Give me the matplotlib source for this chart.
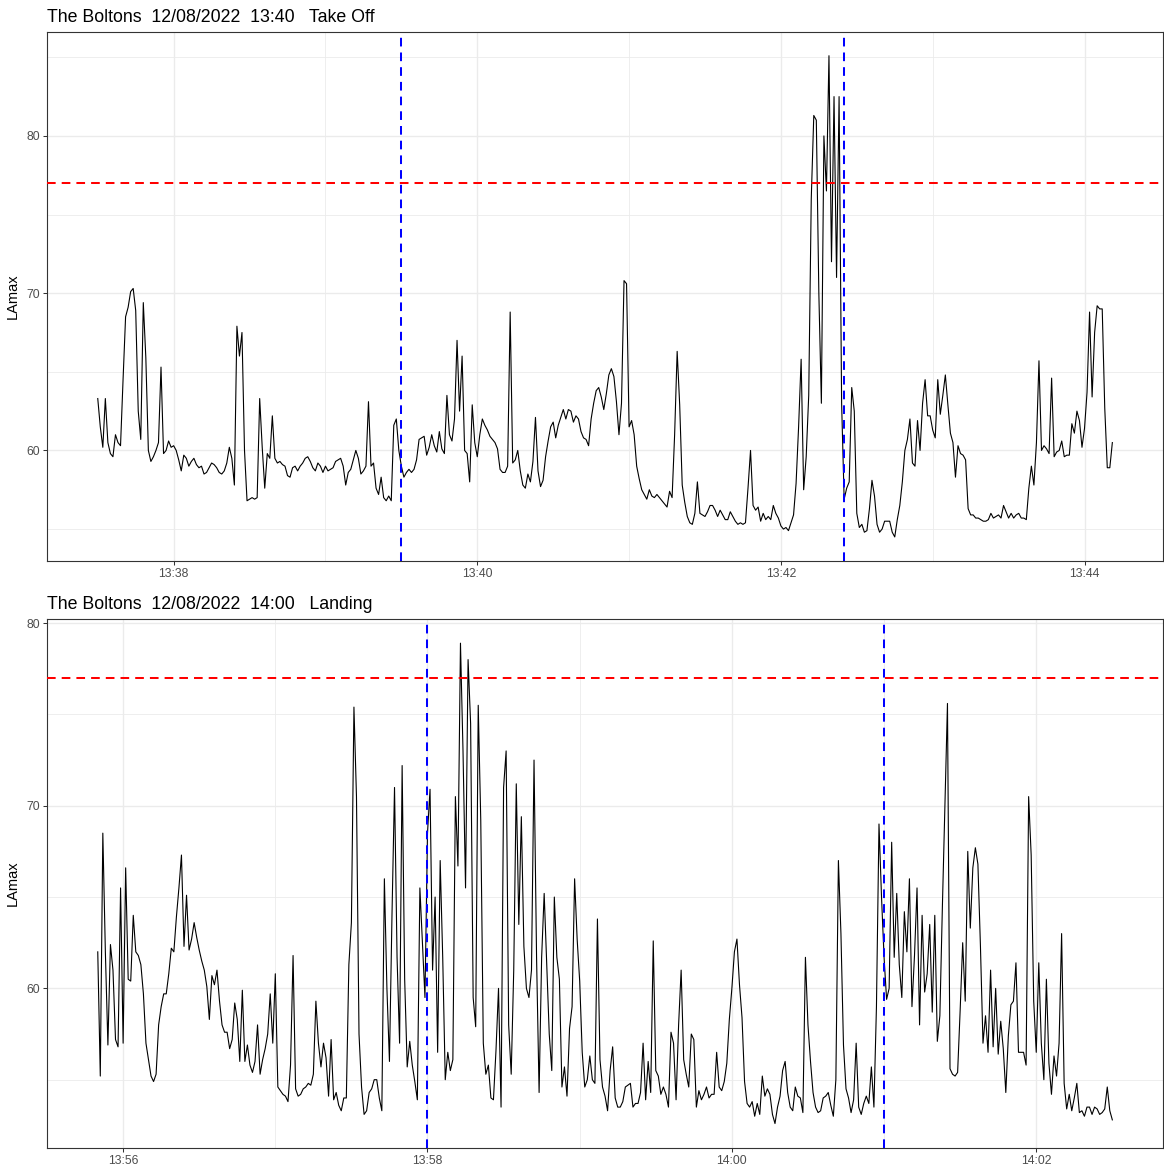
import matplotlib
matplotlib.use("Agg")
import matplotlib.pyplot as plt
import matplotlib.dates as mdates
from matplotlib.ticker import MultipleLocator
import pandas as pd

# LAmax readings, one per second
takeoff_start = "2022-08-12 13:37:30"
takeoff_lamax = [
    63.3, 61.5, 60.2, 63.3, 60.5, 59.8, 59.6, 61.0, 60.5, 60.3,
    64.5, 68.5, 69.1, 70.1, 70.3, 68.9, 62.5, 60.7, 69.4, 65.9,
    60.0, 59.3, 59.6, 60.0, 60.5, 65.3, 59.8, 60.0, 60.6, 60.2,
    60.3, 60.0, 59.4, 58.7, 59.7, 59.5, 59.0, 59.3, 59.5, 59.1,
    58.9, 59.0, 58.5, 58.6, 58.9, 59.2, 59.1, 58.9, 58.6, 58.5,
    58.7, 59.2, 60.2, 59.5, 57.8, 67.9, 66.0, 67.5, 60.0, 56.8,
    56.9, 57.0, 56.9, 57.0, 63.3, 60.2, 57.6, 59.8, 59.5, 62.2,
    59.5, 59.2, 59.3, 59.1, 59.0, 58.4, 58.3, 58.9, 59.0, 58.7,
    59.0, 59.2, 59.5, 59.6, 59.3, 58.9, 58.7, 59.2, 59.0, 58.6,
    59.0, 58.7, 58.8, 58.9, 59.3, 59.4, 59.5, 59.0, 57.8, 58.6,
    58.8, 59.4, 60.0, 59.5, 58.5, 58.7, 59.0, 63.1, 59.0, 59.2,
    57.6, 57.2, 58.3, 57.0, 56.8, 57.1, 56.8, 61.6, 62.0, 60.0,
    59.0, 58.3, 58.6, 58.8, 58.6, 58.8, 59.4, 60.7, 60.8, 60.9,
    59.7, 60.2, 61.0, 60.3, 59.9, 61.2, 60.1, 59.8, 63.5, 61.0,
    60.6, 62.0, 67.0, 62.5, 66.0, 60.0, 59.8, 58.0, 62.9, 60.5,
    59.6, 61.0, 62.0, 61.6, 61.3, 60.9, 60.7, 60.5, 60.1, 58.8,
    58.6, 58.6, 59.0, 68.8, 59.2, 59.4, 60.0, 58.7, 57.8, 57.6,
    58.5, 58.0, 59.3, 62.1, 58.7, 57.7, 58.1, 59.6, 60.6, 61.5,
    61.8, 60.8, 61.6, 62.1, 62.6, 62.0, 62.6, 62.5, 61.8, 62.2,
    62.0, 61.2, 60.8, 60.7, 60.3, 62.0, 63.0, 63.8, 64.0, 63.4,
    62.6, 63.6, 64.8, 65.2, 64.7, 63.1, 61.0, 63.0, 70.8, 70.6,
    61.5, 61.9, 61.0, 59.0, 58.2, 57.5, 57.2, 56.9, 57.5, 57.1,
    57.0, 57.2, 57.0, 56.8, 56.6, 56.4, 57.4, 57.0, 61.0, 66.3,
    62.9, 57.8, 56.7, 55.8, 55.4, 55.3, 56.0, 58.0, 56.0, 55.9,
    55.8, 56.1, 56.5, 56.5, 56.2, 55.8, 56.2, 55.9, 55.6, 55.6,
    56.1, 55.8, 55.5, 55.3, 55.4, 55.3, 55.4, 57.6, 60.0, 56.5,
    56.2, 56.4, 55.5, 56.0, 55.6, 55.8, 55.6, 56.5, 56.0, 55.7,
    55.2, 55.0, 55.1, 54.9, 55.4, 55.9, 57.9, 61.5, 65.8, 57.5,
    59.6, 63.5, 76.0, 81.3, 81.0, 70.0, 63.0, 80.0, 76.5, 85.1,
    72.0, 82.5, 71.0, 82.5, 63.0, 56.9, 57.6, 58.0, 64.0, 62.5,
    56.0, 55.1, 55.3, 54.8, 54.9, 56.3, 58.1, 57.1, 55.3, 54.8,
    55.0, 55.5, 55.5, 55.5, 54.8, 54.5, 55.6, 56.5, 58.0, 60.0,
    60.7, 62.0, 59.2, 59.0, 61.9, 60.0, 63.0, 64.5, 62.2, 62.2,
    61.3, 60.8, 64.5, 62.3, 63.5, 64.8, 62.9, 61.1, 60.5, 58.3,
    60.3, 59.8, 59.7, 59.4, 56.3, 55.9, 55.9, 55.7, 55.7, 55.6,
    55.5, 55.5, 55.6, 56.0, 55.7, 55.8, 55.9, 55.7, 56.5, 56.1,
    55.7, 56.0, 55.7, 55.9, 56.0, 55.7, 55.7, 55.6, 57.6, 59.0,
    57.8, 60.5, 65.7, 60.0, 60.3, 60.1, 59.8, 64.6, 59.6, 59.9,
    60.0, 60.6, 59.6, 59.7, 59.7, 61.7, 61.1, 62.5, 61.9, 60.2,
    61.4, 63.7, 68.8, 63.4, 67.5, 69.2, 69.0, 69.0, 62.7, 58.9,
    58.9, 60.5,
]
takeoff_marks = ["2022-08-12 13:39:30", "2022-08-12 13:42:25"]

landing_start = "2022-08-12 13:55:50"
landing_lamax = [
    62.0, 55.2, 68.5, 62.0, 56.9, 62.4, 61.0, 57.2, 56.8, 65.5,
    57.0, 66.6, 60.5, 60.4, 64.0, 62.0, 61.8, 61.3, 59.7, 57.0,
    56.1, 55.2, 54.9, 55.3, 58.0, 59.0, 59.7, 59.7, 60.8, 62.2,
    62.0, 63.9, 65.5, 67.3, 62.3, 65.1, 62.1, 62.7, 63.6, 62.8,
    62.1, 61.5, 61.0, 60.1, 58.3, 60.7, 60.2, 61.0, 59.3, 58.0,
    57.6, 57.6, 56.7, 57.2, 59.2, 58.3, 56.0, 59.9, 56.0, 56.9,
    55.8, 55.4, 56.0, 58.0, 55.3, 56.1, 56.7, 57.5, 59.7, 57.0,
    60.8, 54.6, 54.4, 54.2, 54.1, 53.8, 55.8, 61.8, 54.5, 54.1,
    54.2, 54.5, 54.6, 54.8, 54.7, 55.3, 59.3, 57.0, 55.7, 57.0,
    56.2, 54.1, 57.2, 53.9, 54.3, 53.6, 53.3, 54.0, 54.0, 61.3,
    63.6, 75.4, 70.5, 57.5, 54.6, 53.1, 53.3, 54.3, 54.5, 55.0,
    55.0, 54.0, 53.3, 66.0, 60.0, 56.0, 64.0, 71.0, 61.7, 57.0,
    72.2, 60.5, 55.7, 57.1, 55.8, 54.9, 53.9, 65.5, 62.5, 59.5,
    68.5, 70.9, 61.0, 65.0, 56.5, 67.0, 61.7, 55.0, 56.5, 55.5,
    56.1, 70.5, 66.7, 78.9, 73.0, 65.5, 78.0, 74.5, 59.5, 57.9,
    75.5, 69.2, 57.0, 55.3, 55.8, 54.0, 53.9, 56.6, 60.0, 53.5,
    71.0, 73.0, 58.0, 55.3, 61.0, 71.2, 63.5, 69.4, 62.3, 60.0,
    59.5, 61.0, 72.5, 61.7, 54.3, 61.7, 65.2, 61.4, 57.5, 55.5,
    65.0, 61.7, 60.5, 54.6, 55.7, 54.1, 57.8, 59.0, 66.0, 62.7,
    60.4, 56.5, 54.6, 55.0, 56.3, 55.0, 54.8, 63.8, 56.1, 54.6,
    54.1, 53.3, 55.5, 56.8, 54.0, 53.5, 53.5, 53.8, 54.6, 54.7,
    54.8, 53.5, 53.7, 53.7, 54.3, 57.0, 53.9, 56.0, 54.3, 62.6,
    55.5, 55.2, 54.2, 54.6, 54.2, 53.5, 57.6, 57.0, 53.9, 58.0,
    61.0, 56.1, 55.3, 54.6, 57.5, 57.2, 53.5, 54.4, 53.9, 54.2,
    54.6, 54.0, 54.2, 54.2, 56.5, 54.6, 54.4, 54.9, 55.9, 58.3,
    60.0, 62.0, 62.7, 60.2, 58.4, 54.9, 53.7, 53.5, 53.8, 53.0,
    53.7, 53.1, 55.2, 54.1, 54.5, 54.2, 53.1, 52.6, 53.5, 54.1,
    55.5, 56.0, 54.3, 53.5, 53.3, 54.6, 54.1, 54.0, 53.2, 61.7,
    58.0, 56.0, 54.3, 53.5, 53.2, 53.3, 54.0, 54.1, 54.3, 53.6,
    53.0, 55.0, 67.0, 63.0, 56.9, 54.5, 54.0, 53.2, 53.9, 57.0,
    53.5, 53.1, 53.7, 54.1, 53.7, 55.7, 53.5, 59.0, 69.0, 65.0,
    61.7, 59.4, 60.0, 68.0, 61.7, 65.2, 61.3, 59.5, 64.2, 62.0,
    66.0, 59.0, 61.8, 65.5, 58.0, 64.0, 59.8, 60.8, 63.5, 58.7,
    64.0, 57.1, 58.5, 64.5, 70.0, 75.6, 55.6, 55.3, 55.2, 55.4,
    58.8, 62.5, 59.3, 67.5, 63.3, 66.6, 67.7, 66.8, 62.3, 57.0,
    58.5, 56.5, 61.0, 56.8, 60.0, 56.4, 58.2, 56.7, 54.3, 57.4,
    59.1, 59.3, 61.4, 56.5, 56.5, 56.5, 55.8, 70.5, 67.3, 59.3,
    56.5, 61.4, 57.0, 55.0, 60.5, 55.9, 54.2, 56.3, 55.2, 57.0,
    63.0, 54.8, 53.4, 54.2, 53.3, 54.0, 54.8, 53.2, 53.3, 53.0,
    53.5, 53.5, 53.1, 53.5, 53.4, 53.1, 53.2, 53.4, 54.6, 53.3,
    52.8,
]
landing_marks = ["2022-08-12 13:58:00", "2022-08-12 14:01:00"]

limit_db = 77
titles = [
    "The Boltons  12/08/2022  13:40   Take Off",
    "The Boltons  12/08/2022  14:00   Landing",
]

plt.rcParams['font.family'] = ['Liberation Sans', 'DejaVu Sans']

colors = {
    'trace': 'black',
    'limit': '#FF0000',
    'event': '#0000FF',
    'grid': '#EBEBEB',
    'frame': '#333333',
    'ticklabel': '#4D4D4D',
}


def draw_panel(ax, start, values, marks, title):
    times = pd.date_range(start, periods=len(values), freq="1s")
    ax.plot(times, values, color=colors['trace'], lw=0.8, zorder=2)

    # noise limit + event markers
    ax.axhline(limit_db, color=colors['limit'], lw=1.45,
               dashes=(4.3, 3.0), zorder=3)
    for m in marks:
        ax.axvline(pd.Timestamp(m), color=colors['event'], lw=1.45,
                   dashes=(4.3, 3.0), zorder=3)

    ax.xaxis.set_major_locator(mdates.MinuteLocator(byminute=range(0, 60, 2)))
    ax.xaxis.set_minor_locator(mdates.MinuteLocator(byminute=range(1, 60, 2)))
    ax.xaxis.set_major_formatter(mdates.DateFormatter("%H:%M"))
    ax.yaxis.set_major_locator(MultipleLocator(10))
    ax.yaxis.set_minor_locator(MultipleLocator(5))

    ax.grid(which='major', color=colors['grid'], lw=1.0)
    ax.grid(which='minor', color=colors['grid'], lw=0.6)
    ax.set_axisbelow(True)

    ax.tick_params(which='major', direction='out', length=2.6, width=0.75,
                   color=colors['frame'], labelcolor=colors['ticklabel'],
                   labelsize=8.8, pad=2.5)
    ax.tick_params(which='minor', length=0)
    for s in ax.spines.values():
        s.set_color(colors['frame'])
        s.set_linewidth(0.8)

    ax.set_ylabel("LAmax", fontsize=10.5, labelpad=5)
    ax.set_title(title, loc='left', fontsize=12.8, pad=7)


fig = plt.figure(figsize=(11.64, 11.68), dpi=100)
ax_top = fig.add_axes([0.0404, 0.5197, 0.9588, 0.4532])
ax_bot = fig.add_axes([0.0404, 0.0175, 0.9588, 0.4524])

draw_panel(ax_top, takeoff_start, takeoff_lamax, takeoff_marks, titles[0])
draw_panel(ax_bot, landing_start, landing_lamax, landing_marks, titles[1])

fig.savefig("out.png", dpi=100, facecolor='white')
plt.close(fig)
